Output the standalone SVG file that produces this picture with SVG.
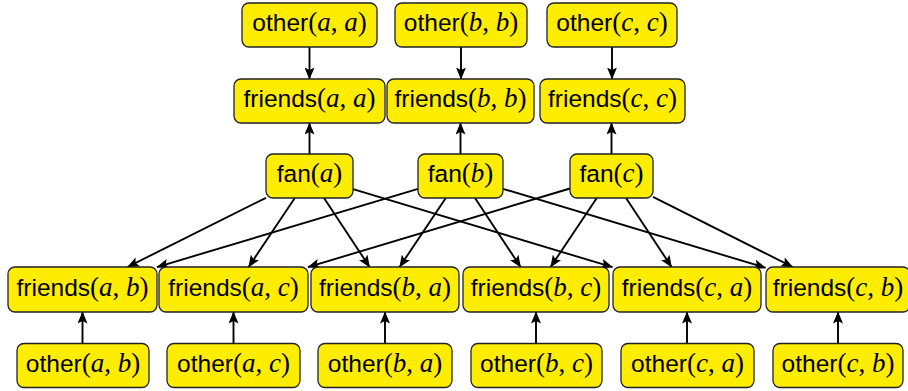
<svg xmlns="http://www.w3.org/2000/svg" width="908" height="391" viewBox="0 0 908 391">
<style>
.b{fill:#FFED00;stroke:#222;stroke-width:1.3}
.t{font-family:"Liberation Sans",Arial,sans-serif;font-size:24.5px;fill:#000;text-anchor:middle}
.m{font-family:"Liberation Serif","Times New Roman",serif;font-size:27px}
.v{font-family:"Liberation Serif","Times New Roman",serif;font-size:27px;font-style:italic}
.e{stroke:#000;stroke-width:1.9;fill:none;marker-end:url(#ah)}
</style>
<defs>
<marker id="ah" markerUnits="userSpaceOnUse" viewBox="0 0 12 10" markerWidth="12" markerHeight="10" refX="11.5" refY="5" orient="auto">
<path d="M0,0 L12,5 L0,10 L2.5,5 z" fill="#000"/>
</marker>
</defs>
<g id="edges">
<line class="e" x1="309.5" y1="47" x2="309.5" y2="79"/>
<line class="e" x1="461" y1="47" x2="461" y2="79"/>
<line class="e" x1="612" y1="47" x2="612" y2="79"/>
<line class="e" x1="309.5" y1="154" x2="309.5" y2="123"/>
<line class="e" x1="460.5" y1="154" x2="460.5" y2="123"/>
<line class="e" x1="611.5" y1="154" x2="611.5" y2="123"/>
<line class="e" x1="266" y1="197.8" x2="127.5" y2="267"/>
<line class="e" x1="294.8" y1="198" x2="248.6" y2="267"/>
<line class="e" x1="324" y1="198" x2="369.6" y2="267"/>
<line class="e" x1="353" y1="189.1" x2="612.5" y2="267.2"/>
<line class="e" x1="418" y1="188.8" x2="157" y2="267.1"/>
<line class="e" x1="445.8" y1="198" x2="399.6" y2="267"/>
<line class="e" x1="475" y1="198" x2="520.6" y2="267"/>
<line class="e" x1="503" y1="188.8" x2="765.5" y2="267.8"/>
<line class="e" x1="570" y1="188.5" x2="308" y2="267.1"/>
<line class="e" x1="596.8" y1="198" x2="550.6" y2="267"/>
<line class="e" x1="626" y1="198" x2="671.6" y2="267"/>
<line class="e" x1="653" y1="196.8" x2="792.7" y2="267"/>
<line class="e" x1="82.5" y1="343.5" x2="82.5" y2="312"/>
<line class="e" x1="233.5" y1="343.5" x2="233.5" y2="312"/>
<line class="e" x1="385" y1="343.5" x2="385" y2="312"/>
<line class="e" x1="536" y1="343.5" x2="536" y2="312"/>
<line class="e" x1="687" y1="343.5" x2="687" y2="312"/>
<line class="e" x1="838" y1="343.5" x2="838" y2="312"/>
</g>
<g id="other_aa"><rect class="b" x="242" y="3" width="135" height="44" rx="7"/><text class="t" x="309.5" y="31.3">other<tspan class="m">(</tspan><tspan class="v">a</tspan><tspan class="m">, </tspan><tspan class="v">a</tspan><tspan class="m">)</tspan></text></g>
<g id="other_bb"><rect class="b" x="395" y="3" width="132" height="44" rx="7"/><text class="t" x="461" y="31.3">other<tspan class="m">(</tspan><tspan class="v">b</tspan><tspan class="m">, </tspan><tspan class="v">b</tspan><tspan class="m">)</tspan></text></g>
<g id="other_cc"><rect class="b" x="547" y="3" width="130" height="44" rx="7"/><text class="t" x="612" y="31.3">other<tspan class="m">(</tspan><tspan class="v">c</tspan><tspan class="m">, </tspan><tspan class="v">c</tspan><tspan class="m">)</tspan></text></g>
<g id="friends_aa"><rect class="b" x="234" y="79" width="151" height="44" rx="7"/><text class="t" x="309.5" y="107.3">friends<tspan class="m">(</tspan><tspan class="v">a</tspan><tspan class="m">, </tspan><tspan class="v">a</tspan><tspan class="m">)</tspan></text></g>
<g id="friends_bb"><rect class="b" x="387" y="79" width="147" height="44" rx="7"/><text class="t" x="460.5" y="107.3">friends<tspan class="m">(</tspan><tspan class="v">b</tspan><tspan class="m">, </tspan><tspan class="v">b</tspan><tspan class="m">)</tspan></text></g>
<g id="friends_cc"><rect class="b" x="540" y="79" width="145" height="44" rx="7"/><text class="t" x="612.5" y="107.3">friends<tspan class="m">(</tspan><tspan class="v">c</tspan><tspan class="m">, </tspan><tspan class="v">c</tspan><tspan class="m">)</tspan></text></g>
<g id="fan_a"><rect class="b" x="266" y="154" width="87" height="44" rx="7"/><text class="t" x="309.5" y="182.3">fan<tspan class="m">(</tspan><tspan class="v">a</tspan><tspan class="m">)</tspan></text></g>
<g id="fan_b"><rect class="b" x="418" y="154" width="85" height="44" rx="7"/><text class="t" x="460.5" y="182.3">fan<tspan class="m">(</tspan><tspan class="v">b</tspan><tspan class="m">)</tspan></text></g>
<g id="fan_c"><rect class="b" x="570" y="154" width="83" height="44" rx="7"/><text class="t" x="611.5" y="182.3">fan<tspan class="m">(</tspan><tspan class="v">c</tspan><tspan class="m">)</tspan></text></g>
<g id="friends_ab"><rect class="b" x="8" y="267" width="149" height="45" rx="7"/><text class="t" x="82.5" y="295.8">friends<tspan class="m">(</tspan><tspan class="v">a</tspan><tspan class="m">, </tspan><tspan class="v">b</tspan><tspan class="m">)</tspan></text></g>
<g id="friends_ac"><rect class="b" x="159" y="267" width="149" height="45" rx="7"/><text class="t" x="233.5" y="295.8">friends<tspan class="m">(</tspan><tspan class="v">a</tspan><tspan class="m">, </tspan><tspan class="v">c</tspan><tspan class="m">)</tspan></text></g>
<g id="friends_ba"><rect class="b" x="311" y="267" width="148" height="45" rx="7"/><text class="t" x="385" y="295.8">friends<tspan class="m">(</tspan><tspan class="v">b</tspan><tspan class="m">, </tspan><tspan class="v">a</tspan><tspan class="m">)</tspan></text></g>
<g id="friends_bc"><rect class="b" x="463" y="267" width="146" height="45" rx="7"/><text class="t" x="536" y="295.8">friends<tspan class="m">(</tspan><tspan class="v">b</tspan><tspan class="m">, </tspan><tspan class="v">c</tspan><tspan class="m">)</tspan></text></g>
<g id="friends_ca"><rect class="b" x="613" y="267" width="148" height="45" rx="7"/><text class="t" x="687" y="295.8">friends<tspan class="m">(</tspan><tspan class="v">c</tspan><tspan class="m">, </tspan><tspan class="v">a</tspan><tspan class="m">)</tspan></text></g>
<g id="friends_cb"><rect class="b" x="766" y="267" width="144" height="45" rx="7"/><text class="t" x="838" y="295.8">friends<tspan class="m">(</tspan><tspan class="v">c</tspan><tspan class="m">, </tspan><tspan class="v">b</tspan><tspan class="m">)</tspan></text></g>
<g id="other_ab"><rect class="b" x="17" y="343.5" width="132" height="44" rx="7"/><text class="t" x="83" y="371.8">other<tspan class="m">(</tspan><tspan class="v">a</tspan><tspan class="m">, </tspan><tspan class="v">b</tspan><tspan class="m">)</tspan></text></g>
<g id="other_ac"><rect class="b" x="167" y="343.5" width="133" height="44" rx="7"/><text class="t" x="233.5" y="371.8">other<tspan class="m">(</tspan><tspan class="v">a</tspan><tspan class="m">, </tspan><tspan class="v">c</tspan><tspan class="m">)</tspan></text></g>
<g id="other_ba"><rect class="b" x="318" y="343.5" width="134" height="44" rx="7"/><text class="t" x="385" y="371.8">other<tspan class="m">(</tspan><tspan class="v">b</tspan><tspan class="m">, </tspan><tspan class="v">a</tspan><tspan class="m">)</tspan></text></g>
<g id="other_bc"><rect class="b" x="471" y="343.5" width="131" height="44" rx="7"/><text class="t" x="536.5" y="371.8">other<tspan class="m">(</tspan><tspan class="v">b</tspan><tspan class="m">, </tspan><tspan class="v">c</tspan><tspan class="m">)</tspan></text></g>
<g id="other_ca"><rect class="b" x="621" y="343.5" width="133" height="44" rx="7"/><text class="t" x="687.5" y="371.8">other<tspan class="m">(</tspan><tspan class="v">c</tspan><tspan class="m">, </tspan><tspan class="v">a</tspan><tspan class="m">)</tspan></text></g>
<g id="other_cb"><rect class="b" x="773" y="343.5" width="130" height="44" rx="7"/><text class="t" x="838" y="371.8">other<tspan class="m">(</tspan><tspan class="v">c</tspan><tspan class="m">, </tspan><tspan class="v">b</tspan><tspan class="m">)</tspan></text></g>
</svg>
